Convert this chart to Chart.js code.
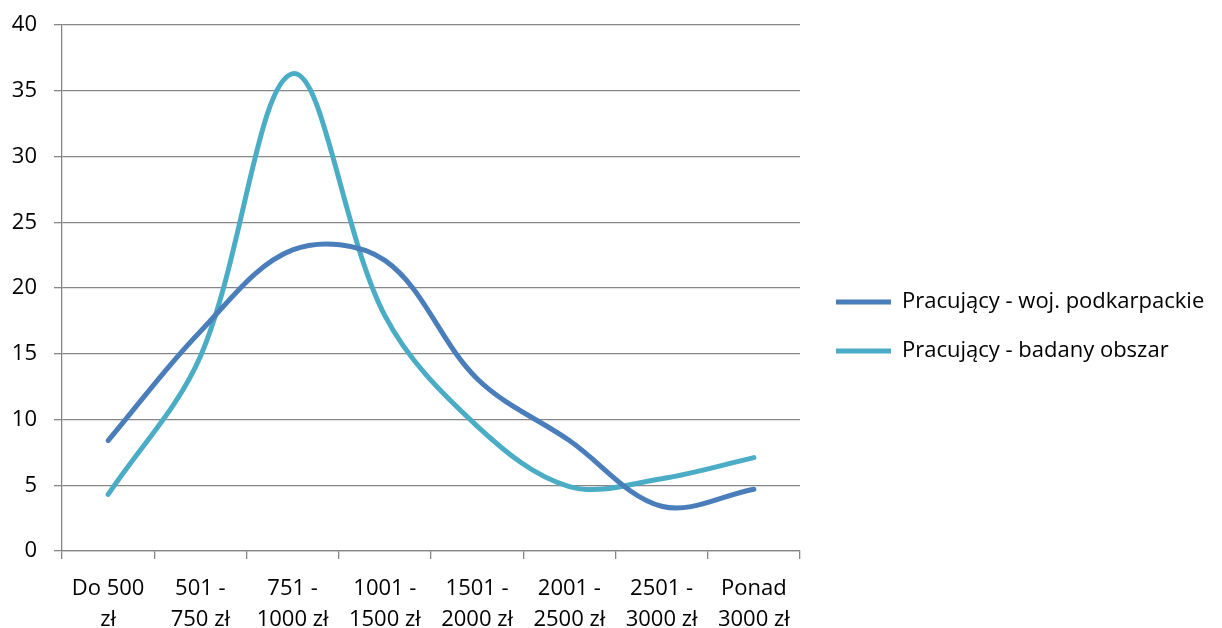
<!DOCTYPE html>
<html>
<head>
<meta charset="utf-8">
<script src="https://cdn.jsdelivr.net/npm/chart.js@4.4.1/dist/chart.umd.min.js"></script>
<style>
  html, body { margin: 0; padding: 0; background: #ffffff; }
  #wrap { width: 1222px; height: 628px; position: relative; }
</style>
</head>
<body>
<div id="wrap"><canvas id="chart" width="1222" height="628"></canvas></div>
<script>
// Income brackets (monthly net pay)
const categories = [
  ["Do 500", "zł"],
  ["501 -", "750 zł"],
  ["751 -", "1000 zł"],
  ["1001 -", "1500 zł"],
  ["1501 -", "2000 zł"],
  ["2001 -", "2500 zł"],
  ["2501 -", "3000 zł"],
  ["Ponad", "3000 zł"]
];

// Share of employed people per bracket, %
const seriesNames = ["Pracujący - woj. podkarpackie", "Pracujący - badany obszar"];
const wojPodkarpackie = [8.4, 16.7, 22.9, 22.1, 13.1, 8.4, 3.4, 4.7];
const badanyObszar = [4.3, 14.8, 36.3, 17.9, 9.5, 4.9, 5.5, 7.1];

// Value axis
const yMin = 0;
const yMax = 40;
const yStep = 5;

const FONT = "'Open Sans', Lato, sans-serif";
const AXIS_GREY = "#868686";

Chart.defaults.font.family = FONT;
Chart.defaults.color = "#000000";

// Keeps the legend column a fixed width so the plot ends where it should,
// and nudges the legend items a little to the right of the plot edge.
const legendColumn = {
  id: "legendColumn",
  beforeLayout(chart) {
    const lg = chart.legend;
    if (lg && !lg._fixedWidth) {
      const fit = lg.fit.bind(lg);
      lg.fit = function () {
        fit();
        if (this.isHorizontal && !this.isHorizontal()) this.width = 422;
      };
      lg._fixedWidth = true;
    }
  },
  afterLayout(chart) {
    const lg = chart.legend;
    if (lg) { lg.left += 9; }
  }
};

new Chart(document.getElementById("chart"), {
  type: "line",
  data: {
    labels: categories,
    datasets: [
      {
        label: seriesNames[0],
        data: wojPodkarpackie,
        borderColor: "#4A7EBB",
        backgroundColor: "#4A7EBB",
        borderWidth: 5,
        borderCapStyle: "round",
        tension: 0.35,
        pointRadius: 0,
        fill: false
      },
      {
        label: seriesNames[1],
        data: badanyObszar,
        borderColor: "#4BACC6",
        backgroundColor: "#4BACC6",
        borderWidth: 5,
        borderCapStyle: "round",
        tension: 0.35,
        pointRadius: 0,
        fill: false
      }
    ]
  },
  plugins: [legendColumn],
  options: {
    responsive: false,
    animation: false,
    layout: { padding: { top: 25, right: 0, bottom: 0, left: 0 } },
    plugins: {
      tooltip: { enabled: false },
      legend: {
        position: "right",
        align: "center",
        labels: {
          usePointStyle: true,
          pointStyle: "line",
          pointStyleWidth: 55,
          padding: 27,
          color: "#000000",
          font: { size: 22, family: FONT }
        }
      }
    },
    scales: {
      x: {
        type: "category",
        offset: true,
        grid: {
          offset: true,
          drawOnChartArea: false,
          drawTicks: true,
          tickLength: 8,
          color: AXIS_GREY,
          lineWidth: 1.3
        },
        border: { color: AXIS_GREY, width: 1.3 },
        ticks: {
          autoSkip: false,
          maxRotation: 0,
          padding: 15,
          color: "#000000",
          font: { size: 22, family: FONT, lineHeight: 1.38 }
        },
        afterFit: (scale) => {
          scale.height = 77;
          scale.paddingLeft = 0;
          scale.paddingRight = 0;
        }
      },
      y: {
        min: yMin,
        max: yMax,
        ticks: {
          stepSize: yStep,
          padding: 17,
          color: "#000000",
          font: { size: 22, family: FONT }
        },
        grid: {
          color: AXIS_GREY,
          lineWidth: 1.3,
          tickLength: 8
        },
        border: { color: AXIS_GREY, width: 1.3 },
        afterFit: (scale) => {
          scale.width = 62;
          scale.paddingTop = 0;
          scale.paddingBottom = 0;
        }
      }
    }
  }
});
</script>
</body>
</html>
